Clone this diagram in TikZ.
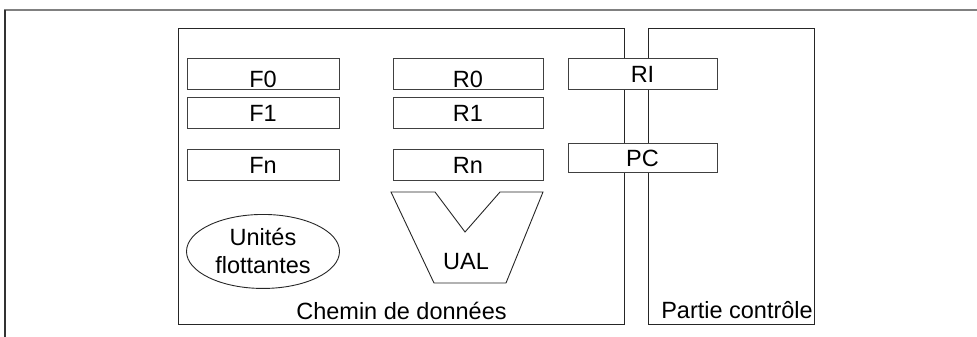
\documentclass[tikz,border=0pt]{standalone}
\usepackage{fontspec}
\setmainfont{Liberation Sans}
\usetikzlibrary{shapes.geometric, positioning}

\begin{document}
\begin{tikzpicture}[
    x=1pt, y=-1pt,
    node distance=7pt and 53pt,
    zone/.style={rectangle, draw=black!85, line width=1pt, inner sep=0pt, anchor=north west},
    reg/.style={rectangle, draw=black!75, fill=white, line width=1pt, minimum width=152pt, minimum height=31pt, inner sep=0pt, font=\fontsize{23.5}{28}\selectfont},
    low/.style={text height=27pt},
    unit/.style={ellipse, draw=black!85, line width=0.9pt, minimum width=153pt, minimum height=74pt, inner sep=0pt, align=center, font=\fontsize{23.5}{28}\selectfont},
    ual/.style={draw=black!85, line width=0.9pt, line join=miter},
    label/.style={inner sep=0pt, font=\fontsize{23.5}{28}\selectfont}
]
\useasboundingbox (0,0) rectangle (977,337);

% Outer frame
\draw[black!50, line width=2pt] (4,10) -- (977,10);
\draw[black!80, line width=1.2pt] (5,10) -- (5,337);

% Zones
\node[zone, minimum width=446pt, minimum height=296pt] (chemin) at (178,28) {};
\node[zone, minimum width=166pt, minimum height=296pt] (partie) at (648,28) {};

% Floating point registers
\node[reg, low] (f0) at (263,74) {F0};
\node[reg, below=of f0] (f1) {F1};
\node[reg, below=20pt of f1] (fn) {Fn};

% Integer registers
\node[reg, low, minimum width=150pt, right=of f0] (r0) {R0};
\node[reg, minimum width=150pt, right=of f1] (r1) {R1};
\node[reg, minimum width=150pt, right=of fn] (rn) {Rn};

% Control registers
\node[reg, minimum width=149pt, right=24pt of r0] (ri) {RI};
\node[reg, minimum width=149pt, minimum height=29pt, below=53pt of ri] (pc) {PC};

% Units
\node[unit, below=33pt of fn] (flottantes) {Unités\\flottantes};
\draw[ual] (391,192) -- (435,192) -- (465,232) -- (500,192) -- (543,192) -- (506,283) -- (434,283) -- cycle;
\node[label] (ual) at (466,262) {UAL};

% Labels
\node[label, above=5pt of chemin.south] (chemintxt) {Chemin de données};
\node[label, above left=6pt and 2pt of partie.south east] (partietxt) {Partie contrôle};

\end{tikzpicture}
\end{document}
